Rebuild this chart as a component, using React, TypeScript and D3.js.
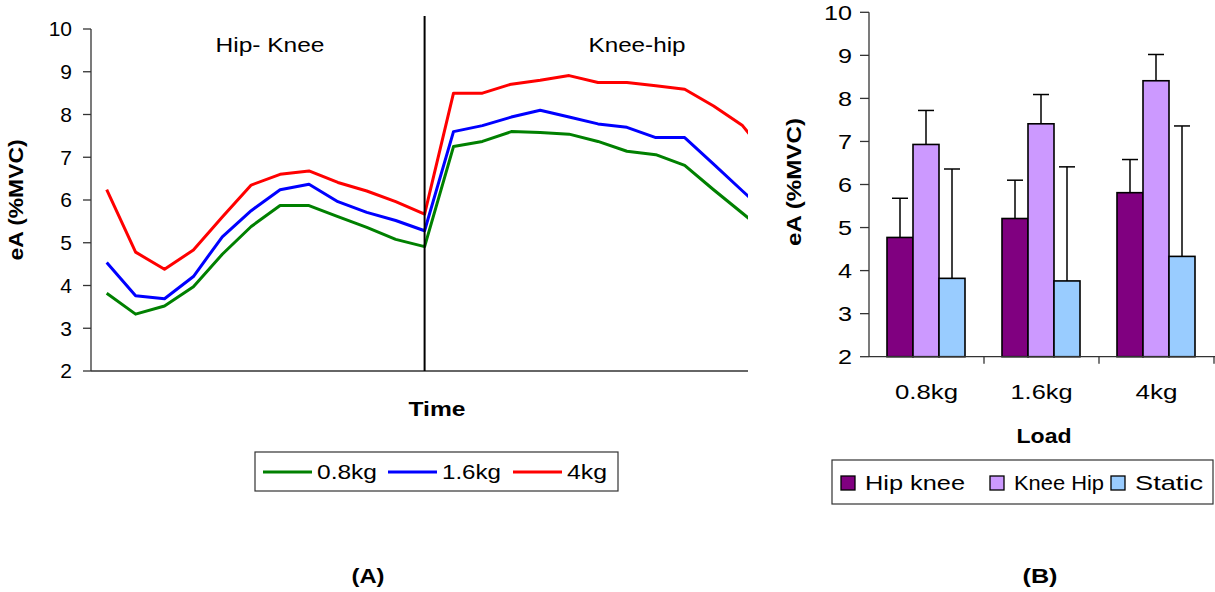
import React from 'react';
import * as d3 from 'd3';

// ---------- Data: panel A (time series) ----------
const timePoints = [0, 1, 2, 3, 4, 5, 6, 7, 8, 9, 10, 11, 12, 13, 14, 15, 16, 17, 18, 19, 20, 21, 22, 23];
const load08 = [3.82, 3.33, 3.52, 3.97, 4.73, 5.38, 5.87, 5.87, 5.61, 5.36, 5.08, 4.91, 7.25, 7.37, 7.6, 7.58, 7.54, 7.37, 7.14, 7.06, 6.81, 6.24, 5.69, 5.14];
const load16 = [4.54, 3.76, 3.69, 4.21, 5.14, 5.75, 6.24, 6.37, 5.96, 5.71, 5.52, 5.28, 7.6, 7.74, 7.94, 8.1, 7.94, 7.78, 7.7, 7.46, 7.46, 6.84, 6.21, 5.59];
const load4 = [6.24, 4.78, 4.38, 4.83, 5.6, 6.35, 6.6, 6.68, 6.41, 6.21, 5.96, 5.67, 8.5, 8.5, 8.71, 8.8, 8.91, 8.75, 8.75, 8.67, 8.59, 8.2, 7.74, 6.9];
const lineSeriesNames = ['0.8kg', '1.6kg', '4kg'];
const lineColors = ['#008000', '#0000ff', '#ff0000'];
const phaseLabels = ['Hip- Knee', 'Knee-hip'];
const dividerIndex = 11;
const yTicks = [2, 3, 4, 5, 6, 7, 8, 9, 10];

// ---------- Data: panel B (bars) ----------
const loads = ['0.8kg', '1.6kg', '4kg'];
const barSeries = ['Hip knee', 'Knee Hip', 'Static'];
const barColors = ['#800080', '#cc99ff', '#99ccff'];
const hipKnee = [4.77, 5.21, 5.81];
const kneeHip = [6.93, 7.41, 8.41];
const staticVals = [3.82, 3.76, 4.33];
const hipKneeErr = [0.91, 0.89, 0.77];
const kneeHipErr = [0.79, 0.68, 0.61];
const staticErr = [2.54, 2.65, 3.03];

const FONT = "'Liberation Sans', Arial, sans-serif";

type TProps = {
  x?: number; y?: number; len?: number; size: number; bold?: boolean; anchor?: string;
  dy?: string; transform?: string; family?: string; children: React.ReactNode;
};
function T({ x, y, len, size, bold, anchor, dy, transform, family, children }: TProps) {
  return (
    <text x={x} y={y} dy={dy} transform={transform} fontSize={size} fontWeight={bold ? 'bold' : 'normal'}
      textAnchor={anchor || 'start'} fill="#000" fontFamily={family}
      {...(len ? { textLength: len, lengthAdjust: 'spacingAndGlyphs' } : {})}>
      {children}
    </text>
  );
}

export default function App() {
  // Panel A scales
  const xA = d3.scaleLinear().domain([0, 22]).range([106.7, 742.5]);
  const yA = d3.scaleLinear().domain([2, 10]).range([371, 29]);
  const lineGen = d3.line<[number, number]>().x(d => xA(d[0])).y(d => yA(d[1]));
  const seriesA = [load08, load16, load4];

  // Panel B scales
  const yB = d3.scaleLinear().domain([2, 10]).range([356.7, 12.3]);
  const xB0 = d3.scaleBand<string>().domain(loads).range([869, 1214]);
  const xB1 = d3.scaleBand<string>().domain(barSeries).range([18, 96]);
  const barVals = [hipKnee, kneeHip, staticVals];
  const barErrs = [hipKneeErr, kneeHipErr, staticErr];

  const axisColor = '#333';
  const legendALen = [60, 59, 40];
  const catLen = [63, 62, 42];
  const legendBLen = [100, 90, 68];
  const narrow = "'Liberation Sans Narrow', 'Arial Narrow', 'Liberation Sans', Arial";

  return (
    <svg width={1215} height={592} style={{ position: 'absolute', left: 0, top: 0, background: '#fff' }} fontFamily={FONT}>
      <defs>
        <clipPath id="clipA">
          <rect x={91} y={0} width={657} height={372} />
        </clipPath>
      </defs>

      {/* ================= Panel A ================= */}
      <line x1={91} x2={91} y1={yA(10)} y2={yA(2)} stroke={axisColor} strokeWidth={1.3} />
      {yTicks.map(t => (
        <g key={'ya' + t}>
          <line x1={83} x2={91} y1={yA(t)} y2={yA(t)} stroke={axisColor} strokeWidth={1.3} />
          <T x={72} y={yA(t)} dy="0.35em" anchor="end" size={21}>{t}</T>
        </g>
      ))}
      <line x1={91} x2={748} y1={yA(2)} y2={yA(2)} stroke={axisColor} strokeWidth={1.3} />
      <g clipPath="url(#clipA)">
        {seriesA.map((s, i) => (
          <path key={'l' + i} d={lineGen(timePoints.map((t, k) => [t, s[k]] as [number, number])) || ''}
            fill="none" stroke={lineColors[i]} strokeWidth={3} strokeLinejoin="round" />
        ))}
      </g>
      <line x1={xA(dividerIndex)} x2={xA(dividerIndex)} y1={16} y2={yA(2)} stroke="#000" strokeWidth={2} />
      <T x={270} y={52} anchor="middle" size={21} len={109}>{phaseLabels[0]}</T>
      <T x={637} y={52} anchor="middle" size={21} len={97}>{phaseLabels[1]}</T>
      <T transform="translate(23,200) rotate(-90)" anchor="middle" size={21} bold len={121}>eA (%MVC)</T>
      <T x={437} y={416} anchor="middle" size={20} bold len={57}>Time</T>
      <rect x={255} y={452} width={363} height={39} fill="#fff" stroke="#333" strokeWidth={1.2} />
      {lineSeriesNames.map((n, i) => {
        const lx = [263, 388, 513][i];
        return (
          <g key={'lgA' + i}>
            <line x1={lx} x2={lx + 49} y1={472} y2={472} stroke={lineColors[i]} strokeWidth={3} />
            <T x={lx + 54} y={472} dy="0.35em" size={21} len={legendALen[i]}>{n}</T>
          </g>
        );
      })}
      <T x={368} y={583} anchor="middle" size={20} bold len={33} family={narrow}>(A)</T>

      {/* ================= Panel B ================= */}
      {loads.map((ld, gi) => (
        <g key={'g' + gi} transform={`translate(${xB0(ld)},0)`}>
          {barSeries.map((s, si) => {
            const v = barVals[si][gi];
            const e = barErrs[si][gi];
            const bx = xB1(s) as number;
            const bw = xB1.bandwidth();
            const cx = bx + bw / 2;
            return (
              <g key={'b' + si}>
                <line x1={cx} x2={cx} y1={yB(v)} y2={yB(v + e)} stroke="#000" strokeWidth={1.5} />
                <line x1={cx - 8} x2={cx + 8} y1={yB(v + e)} y2={yB(v + e)} stroke="#000" strokeWidth={1.5} />
                <rect x={bx} y={yB(v)} width={bw} height={yB(2) - yB(v)} fill={barColors[si]} stroke="#000" strokeWidth={1.6} />
              </g>
            );
          })}
        </g>
      ))}
      <line x1={869} x2={869} y1={yB(10)} y2={yB(2)} stroke={axisColor} strokeWidth={1.3} />
      {yTicks.map(t => (
        <g key={'yb' + t}>
          <line x1={860} x2={869} y1={yB(t)} y2={yB(t)} stroke={axisColor} strokeWidth={1.3} />
          <T transform={`translate(852,${yB(t)}) scale(1.2,1)`} dy="0.35em" anchor="end" size={21}>{t}</T>
        </g>
      ))}
      <line x1={869} x2={1215} y1={yB(2)} y2={yB(2)} stroke={axisColor} strokeWidth={1.3} />
      {loads.map((ld, i) => (
        <g key={'xb' + i}>
          <line x1={(xB0(ld) as number) + xB0.bandwidth()} x2={(xB0(ld) as number) + xB0.bandwidth()} y1={yB(2)} y2={yB(2) + 7} stroke={axisColor} strokeWidth={1.3} />
          <T x={(xB0(ld) as number) + xB0.bandwidth() / 2} y={399} anchor="middle" size={21} len={catLen[i]}>{ld}</T>
        </g>
      ))}
      <T transform="translate(801,182) rotate(-90)" anchor="middle" size={21} bold len={128}>eA (%MVC)</T>
      <T x={1044} y={443} anchor="middle" size={20} bold len={55}>Load</T>
      <rect x={832} y={460} width={381} height={44} fill="#fff" stroke="#333" strokeWidth={1.2} />
      {barSeries.map((s, i) => {
        const sx = [841, 990, 1111][i];
        return (
          <g key={'lgB' + i}>
            <rect x={sx} y={476} width={14} height={14} fill={barColors[i]} stroke="#000" strokeWidth={1.3} />
            <T x={sx + 24} y={483} dy="0.35em" size={21} len={legendBLen[i]}>{s}</T>
          </g>
        );
      })}
      <T x={1040} y={583} anchor="middle" size={20} bold len={35} family={narrow}>(B)</T>
    </svg>
  );
}
